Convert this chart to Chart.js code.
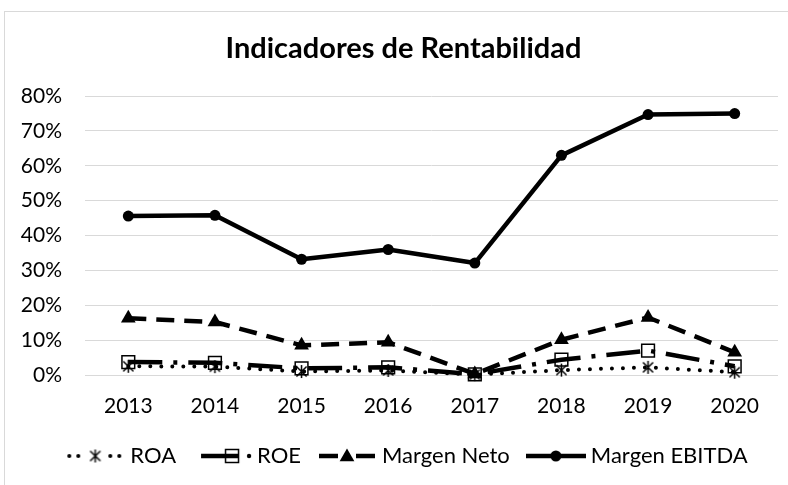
<!DOCTYPE html>
<html>
<head>
<meta charset="utf-8">
<script src="https://cdn.jsdelivr.net/npm/chart.js@4.4.1/dist/chart.umd.min.js"></script>
<style>
html,body{margin:0;padding:0;background:#fff;overflow:hidden;width:788px;height:485px;}
#frame{position:absolute;left:4px;top:11px;width:820px;height:500px;border:1px solid #d9d9d9;background:#fff;}
#c{position:absolute;left:0;top:0;}
</style>
</head>
<body>
<div id="frame"><canvas id="c" width="800" height="478"></canvas></div>
<script>
// ---- data ----
const chartTitle = 'Indicadores de Rentabilidad';
const categories = ['2013', '2014', '2015', '2016', '2017', '2018', '2019', '2020'];
const seriesNames = ['ROA', 'ROE', 'Margen Neto', 'Margen EBITDA'];
const roa          = [0.025, 0.024, 0.010, 0.013, 0.001, 0.014, 0.022, 0.008];
const roe          = [0.037, 0.035, 0.019, 0.022, 0.002, 0.044, 0.070, 0.025];
const margenNeto   = [0.163, 0.152, 0.085, 0.094, 0.003, 0.101, 0.165, 0.065];
const margenEbitda = [0.456, 0.458, 0.332, 0.360, 0.321, 0.630, 0.747, 0.750];
const yTickLabels  = ['0%', '10%', '20%', '30%', '40%', '50%', '60%', '70%', '80%'];

// ---- marker / legend sample images ----
function makeStar(size, lw) {
  const c = document.createElement('canvas'); c.width = size; c.height = size;
  const g = c.getContext('2d'); g.strokeStyle = '#000'; g.lineWidth = lw;
  const m = size / 2, r = size / 2 - 1, d = r * 0.78;
  g.beginPath();
  g.moveTo(m - d, m - d); g.lineTo(m + d, m + d);
  g.moveTo(m + d, m - d); g.lineTo(m - d, m + d);
  g.moveTo(m, m - r); g.lineTo(m, m + r);
  g.stroke();
  return c;
}
const starImg = makeStar(15, 1.5);

function tri(g, cx, cy, r) {
  g.beginPath();
  g.moveTo(cx, cy - r);
  g.lineTo(cx + r * Math.sin(2 * Math.PI / 3), cy - r * Math.cos(2 * Math.PI / 3));
  g.lineTo(cx - r * Math.sin(2 * Math.PI / 3), cy - r * Math.cos(2 * Math.PI / 3));
  g.closePath(); g.fill();
}
function legendSample(kind) {
  const w = 60, h = 22, c = document.createElement('canvas'); c.width = w; c.height = h;
  const g = c.getContext('2d'), y = 11;
  g.strokeStyle = '#000'; g.fillStyle = '#000';
  if (kind === 0) {
    [4, 13, 45, 54].forEach(x => { g.beginPath(); g.arc(x, y, 2, 0, Math.PI * 2); g.fill(); });
    g.drawImage(starImg, 30 - starImg.width / 2, y - starImg.height / 2);
  } else if (kind === 1) {
    g.lineWidth = 4.5; g.beginPath(); g.moveTo(9, y); g.lineTo(47, y); g.stroke();
    g.beginPath(); g.arc(57, y, 2.2, 0, Math.PI * 2); g.fill();
    g.lineWidth = 1.5; g.strokeRect(33.5, y - 6.5, 13, 13);
  } else if (kind === 2) {
    g.lineWidth = 4.5; g.beginPath();
    g.moveTo(2, y); g.lineTo(21, y); g.moveTo(39, y); g.lineTo(58, y); g.stroke();
    tri(g, 30, y + 1, 8.5);
  } else {
    g.lineWidth = 4.5; g.beginPath(); g.moveTo(0, y); g.lineTo(60, y); g.stroke();
    g.beginPath(); g.arc(30, y, 5.5, 0, Math.PI * 2); g.fill();
  }
  return c;
}
const legendImgs = [0, 1, 2, 3].map(legendSample);

const FONT = 'Lato, "Open Sans", sans-serif';

// shift title and legend horizontally to match the reference centring
const shiftBlocks = {
  id: 'shiftBlocks',
  afterLayout(chart) {
    if (chart.titleBlock) { chart.titleBlock.left += 7; chart.titleBlock.right += 7; }
    if (chart.legend) { chart.legend.left += 13; chart.legend.right += 13; }
  }
};

function draw() {
  new Chart(document.getElementById('c'), {
    type: 'line',
    plugins: [shiftBlocks],
    data: {
      labels: categories,
      datasets: [
        { label: seriesNames[0], data: roa, order: 3, clip: false,
          borderColor: '#000', borderWidth: 4, borderDash: [0, 11], borderCapStyle: 'round', borderJoinStyle: 'round',
          pointStyle: starImg, pointRadius: 7, backgroundColor: '#000' },
        { label: seriesNames[1], data: roe, order: 2, clip: false,
          borderColor: '#000', borderWidth: 4.5, borderDash: [34, 11, 4, 11], borderCapStyle: 'butt', borderJoinStyle: 'round',
          pointStyle: 'rect', pointRadius: 9, pointBackgroundColor: 'rgba(0,0,0,0)', pointBorderColor: '#000', pointBorderWidth: 1.5 },
        { label: seriesNames[2], data: margenNeto, order: 1, clip: false,
          borderColor: '#000', borderWidth: 4.5, borderDash: [18, 10], borderCapStyle: 'butt', borderJoinStyle: 'round',
          pointStyle: 'triangle', pointRadius: 8.5, pointBackgroundColor: '#000', pointBorderColor: '#000', pointBorderWidth: 0 },
        { label: seriesNames[3], data: margenEbitda, order: 0, clip: false,
          borderColor: '#000', borderWidth: 4.5, borderJoinStyle: 'round',
          pointStyle: 'circle', pointRadius: 5.5, pointBackgroundColor: '#000', pointBorderColor: '#000', pointBorderWidth: 0 }
      ]
    },
    options: {
      responsive: false,
      devicePixelRatio: 1,
      animation: false,
      events: [],
      layout: { padding: { left: 10, right: 27, top: 0, bottom: 13 } },
      elements: { line: { tension: 0 } },
      plugins: {
        tooltip: { enabled: false },
        title: {
          display: true, text: chartTitle, color: '#000',
          font: { family: FONT, size: 29, weight: 'bold', lineHeight: 1.2 },
          padding: { top: 19, bottom: 30.3 }
        },
        legend: {
          display: true, position: 'bottom',
          labels: {
            usePointStyle: true, pointStyleWidth: 48, padding: 22, color: '#000',
            font: { family: FONT, size: 22 },
            generateLabels: (chart) => chart.data.datasets.map((ds, i) => ({
              text: ds.label, pointStyle: legendImgs[i], datasetIndex: i, hidden: false,
              fillStyle: '#000', strokeStyle: '#000', lineWidth: 0, fontColor: '#000'
            }))
          }
        }
      },
      scales: {
        x: {
          type: 'category', offset: true,
          grid: { display: false, drawTicks: false },
          border: { display: false },
          ticks: { color: '#000', padding: 19, font: { family: FONT, size: 21 }, maxRotation: 0 },
          afterFit: (s) => { s.height = 48; }
        },
        y: {
          min: 0, max: 0.8,
          grid: { color: '#d9d9d9', lineWidth: 1, drawTicks: false },
          border: { display: false },
          ticks: { stepSize: 0.1, color: '#000', padding: 23, font: { family: FONT, size: 21 },
                   callback: (v) => yTickLabels[Math.round(v * 10)] },
          afterFit: (s) => { s.width = 70; }
        }
      }
    }
  });
}
Promise.all([
  document.fonts.load('bold 29px Lato'),
  document.fonts.load('21px Lato')
]).then(draw, draw);
</script>
</body>
</html>
